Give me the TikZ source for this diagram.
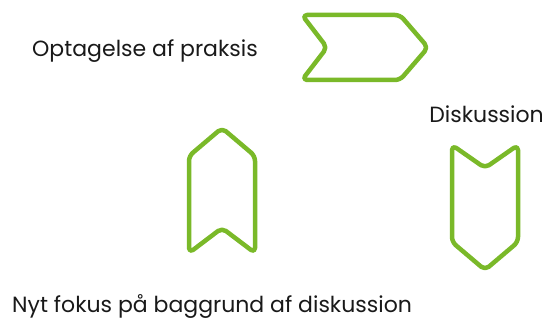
\documentclass[tikz,border=0pt]{standalone}
\usepackage{fontspec}
\setmainfont{Poppins}
\usepackage{xcolor}
\usepackage{tikz}
\usetikzlibrary{positioning}
\definecolor{leafgreen}{RGB}{122,185,41}

\begin{document}
\begin{tikzpicture}[
  x=1pt, y=-1pt,
  every node/.style={inner sep=0pt, font=\fontsize{22}{26}\selectfont, text=black!90},
  chevron/.style={draw=leafgreen, line width=4.5pt, rounded corners=5pt, line join=round}
]
\useasboundingbox (0,0) rectangle (547,320);

% Labels
\node[anchor=base west] (optagelse) at (32,57) {Optagelse af praksis};
\node[anchor=base east] (diskussion) at (544,123) {Diskussion};
\node[anchor=base west] (nytfokus) at (12,313) {Nyt fokus på baggrund af diskussion};

% Chevrons
\draw[chevron] (302,15) -- (400,15) -- (428,47.5) -- (400,80) -- (302,80) -- (327,47.5) -- cycle;
\draw[chevron] (222,128) -- (255,156) -- (255,253) -- (222,228) -- (189,253) -- (189,156) -- cycle;
\draw[chevron] (452,145) -- (485,168) -- (518,145) -- (518,242) -- (485,270) -- (452,242) -- cycle;

\end{tikzpicture}
\end{document}
